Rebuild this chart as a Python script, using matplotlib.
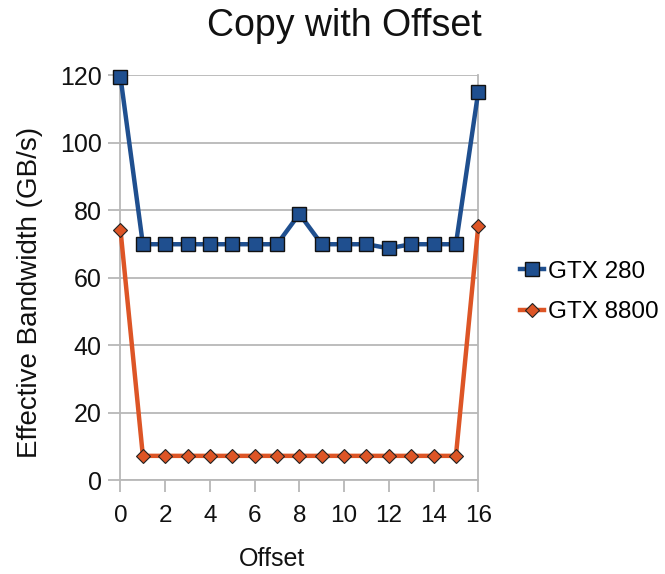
import numpy as np
import matplotlib.pyplot as plt

plt.rcParams['font.family'] = ['Liberation Sans', 'DejaVu Sans']

# ===== DATA =====
offsets = list(range(17))
gtx280 = [119.5, 70, 70, 70, 70, 70, 70, 70, 79, 70, 70, 70, 68.8, 70, 70, 70, 115.2]
gtx8800 = [74.2, 7.3, 7.3, 7.3, 7.3, 7.3, 7.3, 7.3, 7.3, 7.3, 7.3, 7.3, 7.3, 7.3, 7.3, 7.3, 75.4]
x_ticks = list(range(0, 17, 2))
y_ticks = list(range(0, 121, 20))

blue = '#1f4f8f'
orange = '#dd5526'
grid_c = '#b8b8b8'

# ===== LAYOUT =====
fig = plt.figure(figsize=(6.65, 5.74), dpi=100)
ax = fig.add_axes([0.1812, 0.1629, 0.538, 0.7056])

ax.plot(offsets, gtx280, color=blue, lw=3.2, marker='s', ms=10,
        mfc=blue, mec='#111111', mew=1.0, clip_on=False, zorder=4, label='GTX 280')
ax.plot(offsets, gtx8800, color=orange, lw=3.2, marker='D', ms=7.5,
        mfc=orange, mec='#222222', mew=0.8, clip_on=False, zorder=3, label='GTX 8800')

ax.set_xlim(0, 16)
ax.set_ylim(0, 120)
ax.set_xticks(x_ticks)
ax.set_yticks(y_ticks)
ax.yaxis.grid(True, color=grid_c, lw=1.3)
ax.set_axisbelow(True)

for s in ax.spines.values():
    s.set_color(grid_c)
    s.set_linewidth(1.3)
ax.spines['top'].set_visible(False)

ax.tick_params(axis='y', length=9, width=1.3, color=grid_c, pad=4.5,
               labelsize=18, labelcolor='#111111')
ax.tick_params(axis='x', length=8.5, width=1.3, color=grid_c, pad=9,
               labelsize=17.5, labelcolor='#111111')

ax.set_xlabel('Offset', fontsize=18, color='#111111')
ax.xaxis.label.set_va('center')
ax.xaxis.set_label_coords(0.423, -0.194)
ax.set_ylabel('Effective Bandwidth (GB/s)', fontsize=20, color='#111111')
ax.yaxis.label.set_va('center')
ax.yaxis.set_label_coords(-0.253, 0.464)

fig.text(344 / 665, 1 - 26 / 574, 'Copy with Offset', fontsize=27,
         ha='center', va='center', color='#111111')

fig.legend(loc='center left', bbox_to_anchor=(510 / 665, 1 - 292 / 574),
           frameon=False, fontsize=17.5, handlelength=1.0, handletextpad=0.15,
           labelspacing=0.75, borderaxespad=0)

fig.savefig('out.png', dpi=100)
